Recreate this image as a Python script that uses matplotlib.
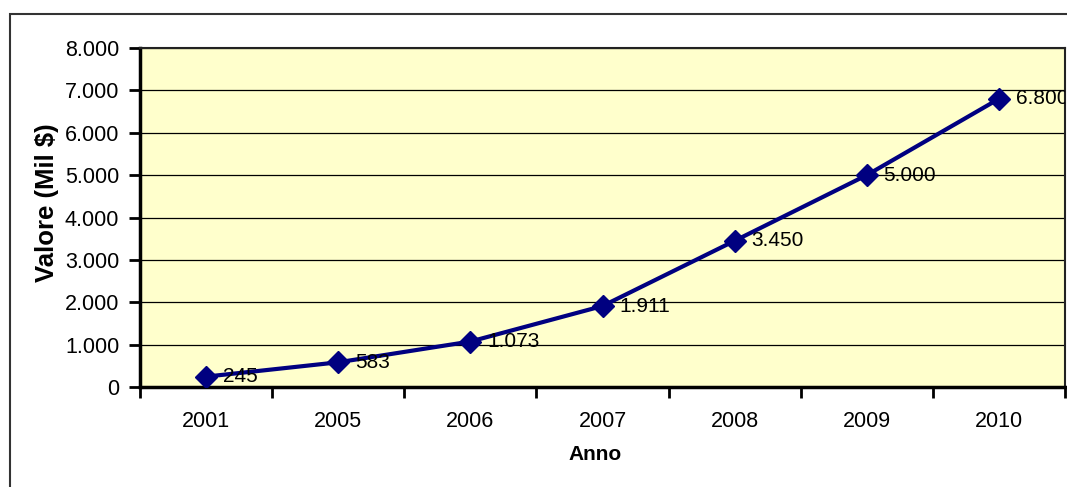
import matplotlib.pyplot as plt
from matplotlib.patches import Rectangle
from matplotlib.ticker import FuncFormatter

# data
anni = ['2001', '2005', '2006', '2007', '2008', '2009', '2010']
valori = [245, 583, 1073, 1911, 3450, 5000, 6800]
etichette = ['245', '583', '1.073', '1.911', '3.450', '5.000', '6.800']

plt.rcParams['font.family'] = ['Liberation Sans', 'DejaVu Sans']

fig = plt.figure(figsize=(10.67, 4.87), dpi=100)
ax = fig.add_axes([140/1067, 1 - 387/487, 925/1067, 339/487])

# outer chart border
fig.patches.append(Rectangle((10/1067, -0.05), 1.2, (487 - 14)/487 + 0.05,
                             transform=fig.transFigure, fill=False,
                             edgecolor='#333333', linewidth=1.5))

ax.set_facecolor('#FFFFCC')
x = list(range(len(anni)))
ax.plot(x, valori, color='#000080', linewidth=3,
        marker='D', markersize=11, markerfacecolor='#000080', zorder=3)

for xi, v, t in zip(x, valori, etichette):
    ax.annotate(t, (xi, v), xytext=(12, 0), textcoords='offset points',
                va='center', ha='left', fontsize=15, color='black',
                clip_on=True, zorder=4)

ax.set_xlim(-0.5, len(anni) - 0.5)
ax.set_ylim(0, 8000)
ax.set_yticks(range(0, 8001, 1000))
ax.yaxis.set_major_formatter(FuncFormatter(lambda v, p: f'{int(v):,}'.replace(',', '.')))
ax.set_xticks(x)
ax.set_xticklabels(anni)
ax.set_xticks([i - 0.5 for i in range(len(anni) + 1)], minor=True)
ax.tick_params(axis='x', which='major', length=0, pad=17, labelsize=15.5)
ax.tick_params(axis='x', which='minor', length=8, width=2, direction='out')
ax.tick_params(axis='y', length=8, width=2, direction='out', pad=7, labelsize=15.5)

ax.grid(axis='y', color='black', linewidth=0.9)
ax.set_axisbelow(True)

for s in ['left', 'bottom']:
    ax.spines[s].set_linewidth(2.5)
    ax.spines[s].set_color('black')
for s in ['top', 'right']:
    ax.spines[s].set_linewidth(1.5)
    ax.spines[s].set_color('#222222')

ax.set_ylabel('Valore (Mil $)', fontsize=18.5, fontweight='bold')
ax.yaxis.set_label_coords((59 - 140)/925, (387 - 203)/339)
ax.set_xlabel('Anno', fontsize=15, fontweight='bold')
ax.xaxis.set_label_coords((595 - 140)/925, (387 - 445)/339)

fig.savefig('out.png', dpi=100)
